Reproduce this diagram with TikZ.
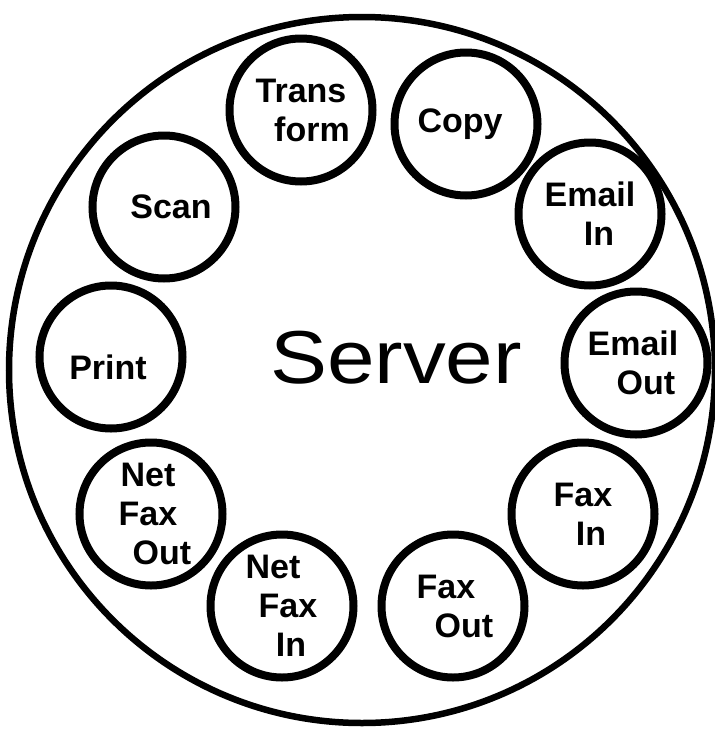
\documentclass[tikz,border=0pt]{standalone}
\usepackage{fontspec}
\setmainfont{Liberation Sans}
\usepackage{tikz}
\usetikzlibrary{}

\newcommand\nudge[2]{\kern#1pt#2\kern-#1pt}

\begin{document}
\begin{tikzpicture}[x=1pt,y=-1pt,
		ring/.style={draw,circle,line width=8pt,minimum size=143pt,inner sep=0pt,align=center,
			font=\bfseries\fontsize{34}{39}\selectfont},
		hub/.style={draw,circle,line width=6.5pt,minimum size=706pt,inner sep=0pt}]
		\useasboundingbox (0,0) rectangle (715,734);
		
		\node[hub] (hub) at (362,370) {};
		\node[font=\fontsize{75}{75}\selectfont] (server) at (396,358) {\scalebox{1.14}[1]{Server}};
		
		\node[ring] (trans) at (301,110) {Trans\\\nudge{11}{form}};
		\node[ring] (copy) at (466,124) {\nudge{-6}{Copy}};
		\node[ring] (emailin) at (590,214) {Email\\\nudge{9}{In}};
		\node[ring] (emailout) at (636,363) {\nudge{-3}{Email}\\\nudge{10}{Out}};
		\node[ring] (faxin) at (583,514) {Fax\\\nudge{8}{In}};
		\node[ring] (faxout) at (453,606) {\nudge{-7}{Fax}\\\nudge{11}{Out}};
		\node[ring] (netfaxin) at (282,606) {\nudge{-9}{Net}\\\nudge{6}{Fax}\\\nudge{9}{In}};
		\node[ring] (netfaxout) at (151,514) {\nudge{-3}{Net}\\\nudge{-3}{Fax}\\\nudge{11}{Out}};
		\node[ring,text height=44pt,text depth=0pt] (print) at (111,357) {\nudge{-3}{Print}};
		\node[ring] (scan) at (164,207) {\nudge{7}{Scan}};
	\end{tikzpicture}
\end{document}
